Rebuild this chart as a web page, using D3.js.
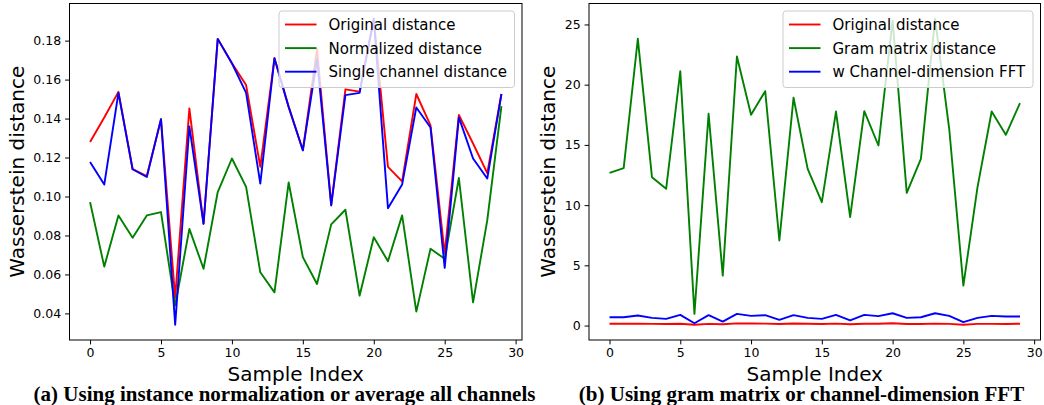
<!DOCTYPE html>
<html>
<head>
<meta charset="utf-8">
<script src="https://cdn.jsdelivr.net/npm/d3@7"></script>
<style>
  html, body { margin: 0; padding: 0; background: #fff; }
  svg { display: block; }
</style>
</head>
<body>
<svg id="chart" width="1044" height="405"></svg>
<script>
// ---------- data ----------
const sampleIndex = d3.range(30);

// (a) instance normalization / average all channels
const originalA = [0.128, 0.1405, 0.1537, 0.114, 0.1105, 0.1397, 0.048, 0.1452, 0.086, 0.1809,
                   0.1684, 0.1572, 0.1152, 0.171, 0.146, 0.1237, 0.1756, 0.0957, 0.155, 0.1538,
                   0.1912, 0.1152, 0.1078, 0.1526, 0.1365, 0.0707, 0.1419, 0.1272, 0.112, 0.1526];
const normalizedA = [0.0971, 0.064, 0.0903, 0.0788, 0.0903, 0.092, 0.044, 0.0834, 0.0629, 0.1023,
                     0.1195, 0.1049, 0.0611, 0.0508, 0.1072, 0.0689, 0.0551, 0.0857, 0.0932, 0.0491,
                     0.0791, 0.0668, 0.0903, 0.0409, 0.0732, 0.068, 0.1095, 0.0457, 0.0877, 0.1464];
const singleChannelA = [0.1177, 0.1061, 0.1532, 0.114, 0.110, 0.1397, 0.0342, 0.136, 0.086, 0.1809,
                        0.1684, 0.1532, 0.1066, 0.171, 0.146, 0.1237, 0.1704, 0.0954, 0.152, 0.1532,
                        0.1912, 0.094, 0.1062, 0.1457, 0.1354, 0.0634, 0.1406, 0.1195, 0.1092, 0.1526];

// (b) gram matrix / channel-dimension FFT
const originalB = [0.15, 0.15, 0.16, 0.14, 0.13, 0.15, 0.07, 0.14, 0.11, 0.18,
                   0.17, 0.16, 0.13, 0.17, 0.15, 0.13, 0.16, 0.11, 0.15, 0.15,
                   0.19, 0.13, 0.13, 0.16, 0.14, 0.07, 0.14, 0.14, 0.13, 0.15];
const gramB = [12.68, 13.07, 23.81, 12.32, 11.35, 21.12, 0.97, 17.58, 4.15, 22.34,
               17.5, 19.46, 7.06, 18.91, 13.01, 10.24, 17.77, 9.0, 17.8, 14.95,
               25.33, 11.02, 13.84, 25.47, 16.34, 3.32, 11.49, 17.77, 15.84, 18.47];
const fftB = [0.69, 0.69, 0.83, 0.64, 0.55, 0.89, 0.19, 0.86, 0.33, 0.97,
              0.8, 0.86, 0.47, 0.86, 0.64, 0.55, 0.89, 0.42, 0.89, 0.78,
              1.02, 0.64, 0.69, 1.02, 0.8, 0.28, 0.64, 0.8, 0.75, 0.75];

const xTicks = [0, 5, 10, 15, 20, 25, 30];
const yTicksA = [0.04, 0.06, 0.08, 0.10, 0.12, 0.14, 0.16, 0.18];
const yTicksB = [0, 5, 10, 15, 20, 25];

const legendA = ["Original distance", "Normalized distance", "Single channel distance"];
const legendB = ["Original distance", "Gram matrix distance", "w Channel-dimension FFT"];
const seriesColors = ["#ff0000", "#008000", "#0000ff"];

const xLabel = "Sample Index";
const yLabel = "Wasserstein distance";
const captionA = "(a) Using instance normalization or average all channels";
const captionB = "(b) Using gram matrix or channel-dimension FFT";

// ---------- drawing ----------
const svg = d3.select("#chart");
const FONT = "'DejaVu Sans', sans-serif";

function panel(opts) {
  const { left, right, top, bottom, series, yTicks, yFmt, legend, caption, captionX, yLabelX } = opts;

  const all = series.flat();
  const ymin = d3.min(all), ymax = d3.max(all);
  const ym = (ymax - ymin) * 0.05;
  const xm = (sampleIndex[sampleIndex.length - 1] - sampleIndex[0]) * 0.05;

  const x = d3.scaleLinear().domain([sampleIndex[0] - xm, sampleIndex[sampleIndex.length - 1] + xm]).range([left, right]);
  const y = d3.scaleLinear().domain([ymin - ym, ymax + ym]).range([bottom, top]);

  const g = svg.append("g");

  // lines
  const line = d3.line().x((d, i) => x(sampleIndex[i])).y(d => y(d));
  series.forEach((s, k) => {
    g.append("path")
      .datum(s)
      .attr("d", line)
      .attr("fill", "none")
      .attr("stroke", seriesColors[k])
      .attr("stroke-width", 1.9)
      .attr("stroke-linejoin", "round")
      .attr("stroke-linecap", "butt");
  });

  // x axis
  const xAxis = d3.axisBottom(x).tickValues(xTicks).tickFormat(d3.format("d")).tickSizeOuter(0).tickSize(4.4).tickPadding(4);
  const gx = g.append("g").attr("transform", `translate(0,${bottom})`).call(xAxis);
  gx.select(".domain").remove();
  gx.selectAll(".tick line").attr("stroke", "#000").attr("stroke-width", 1);
  gx.selectAll(".tick text").attr("font-family", FONT).attr("font-size", 12.5).attr("fill", "#000");

  // y axis
  const yAxis = d3.axisLeft(y).tickValues(yTicks).tickFormat(yFmt).tickSizeOuter(0).tickSize(4.4).tickPadding(4);
  const gy = g.append("g").attr("transform", `translate(${left},0)`).call(yAxis);
  gy.select(".domain").remove();
  gy.selectAll(".tick line").attr("stroke", "#000").attr("stroke-width", 1);
  gy.selectAll(".tick text").attr("font-family", FONT).attr("font-size", 12.5).attr("fill", "#000");

  // spines
  g.append("rect")
    .attr("x", left).attr("y", top)
    .attr("width", right - left).attr("height", bottom - top)
    .attr("fill", "none").attr("stroke", "#000").attr("stroke-width", 1);

  // legend
  const lgRight = right - 7.5, lgTop = top + 7.5;
  const lgW = opts.legendWidth, lgH = 76.5;
  const lg = g.append("g");
  lg.append("rect")
    .attr("x", lgRight - lgW).attr("y", lgTop)
    .attr("width", lgW).attr("height", lgH)
    .attr("rx", 3).attr("ry", 3)
    .attr("fill", "#fff").attr("fill-opacity", 0.8)
    .attr("stroke", "#cccccc").attr("stroke-width", 1);
  legend.forEach((name, k) => {
    const cy = lgTop + 13.5 + k * 23.6;
    lg.append("line")
      .attr("x1", lgRight - lgW + 6).attr("x2", lgRight - lgW + 37.5)
      .attr("y1", cy).attr("y2", cy)
      .attr("stroke", seriesColors[k]).attr("stroke-width", 1.9);
    lg.append("text")
      .attr("x", lgRight - lgW + 49.5).attr("y", cy + 5.6)
      .attr("font-family", FONT).attr("font-size", 15).attr("fill", "#000")
      .text(name);
  });

  // axis labels
  g.append("text")
    .attr("x", (left + right) / 2).attr("y", 381)
    .attr("text-anchor", "middle")
    .attr("font-family", FONT).attr("font-size", 20).attr("fill", "#000")
    .text(xLabel);
  g.append("text")
    .attr("transform", `translate(${yLabelX},${(top + bottom) / 2}) rotate(-90)`)
    .attr("text-anchor", "middle")
    .attr("font-family", FONT).attr("font-size", 20).attr("fill", "#000")
    .text(yLabel);

  // caption
  g.append("text")
    .attr("x", captionX).attr("y", 400.5)
    .attr("text-anchor", "middle")
    .attr("font-family", "'Liberation Serif', 'Times New Roman', serif")
    .attr("font-weight", "bold")
    .attr("font-size", 21)
    .attr("fill", "#000")
    .text(caption);
}

panel({
  left: 69.5, right: 522, top: 3.5, bottom: 340,
  series: [originalA, normalizedA, singleChannelA],
  yTicks: yTicksA, yFmt: d3.format(".2f"),
  legend: legendA, legendWidth: 235.5,
  caption: captionA, captionX: 284.5, yLabelX: 23.5
});

panel({
  left: 589, right: 1040.5, top: 3.5, bottom: 340,
  series: [originalB, gramB, fftB],
  yTicks: yTicksB, yFmt: d3.format("d"),
  legend: legendB, legendWidth: 250,
  caption: captionB, captionX: 801.5, yLabelX: 554.5
});
</script>
</body>
</html>
